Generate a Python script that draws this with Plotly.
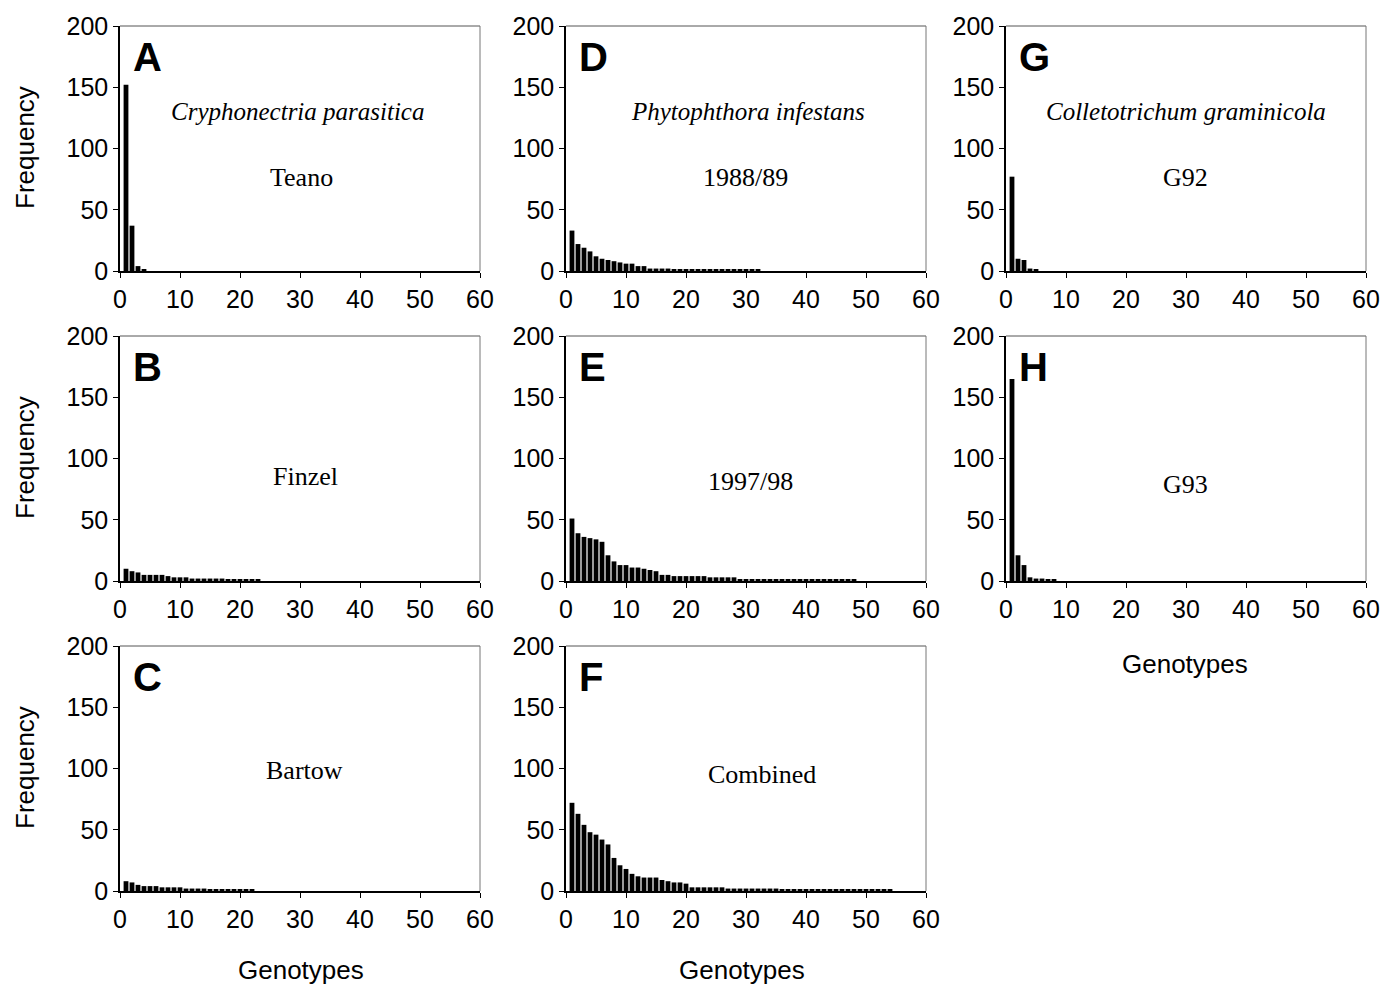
import plotly.graph_objects as go

# ---- data ----
freq_A = [152, 37, 4, 1]
freq_B = [10, 8, 7, 5, 5, 5, 5, 4, 3, 3, 3, 2, 2, 2, 2, 2, 2, 1, 1, 1, 1, 1, 1]
freq_C = [8, 7, 5, 4, 4, 4, 3, 3, 3, 3, 2, 2, 2, 2, 1, 1, 1, 1, 1, 1, 1, 1]
freq_D = [33, 22, 19, 16, 12, 10, 9, 8, 7, 6, 6, 4, 4, 2, 2, 2, 2,
          1, 1, 1, 1, 1, 1, 1, 1, 1, 1, 1, 1, 1, 1, 1]
freq_E = [51, 39, 36, 35, 34, 32, 21, 16, 13, 13, 11, 11, 10, 9, 8, 5, 5, 4, 4, 4,
          4, 4, 4, 3, 3, 3, 3, 3, 1, 1, 1, 1, 1, 1, 1, 1, 1, 1, 1, 1, 1, 1, 1, 1,
          1, 1, 1, 1]
freq_F = [72, 63, 54, 48, 46, 42, 38, 27, 21, 18, 14, 12, 11, 11, 11, 9, 8, 7, 7, 6,
          3, 3, 3, 3, 3, 3, 2, 2, 2, 2, 2, 2, 2, 2, 2, 1, 1, 1, 1, 1, 1, 1, 1, 1,
          1, 1, 1, 1, 1, 1, 1, 1, 1, 1]
freq_G = [77, 10, 9, 2, 1]
freq_H = [165, 21, 13, 3, 2, 2, 1, 1]

panel_letters = ["A", "B", "C", "D", "E", "F", "G", "H"]
panel_series = [freq_A, freq_B, freq_C, freq_D, freq_E, freq_F, freq_G, freq_H]
panel_pos = [(0, 0), (1, 0), (2, 0), (0, 1), (1, 1), (2, 1), (0, 2), (1, 2)]
panel_labels = ["Teano", "Finzel", "Bartow", "1988/89", "1997/98", "Combined", "G92", "G93"]
species = {(0, 0): "Cryphonectria parasitica", (0, 1): "Phytophthora infestans",
           (0, 2): "Colletotrichum graminicola"}
x_ticks = [0, 10, 20, 30, 40, 50, 60]
y_ticks = [0, 50, 100, 150, 200]

# ---- layout geometry (page pixels; body margin is removed by post_script) ----
W, H = 1382, 988
col_x = [(120, 480), (566, 926), (1006, 1366)]
row_y = [(26, 271), (336, 581), (646, 891)]
label_y = {(0, 0): 177, (1, 0): 476, (2, 0): 770, (0, 1): 177, (1, 1): 481, (2, 1): 774,
           (0, 2): 177, (1, 2): 484}
label_x = {(0, 0): 301, (1, 0): 305, (2, 0): 304, (0, 1): 745, (1, 1): 750, (2, 1): 762,
           (0, 2): 1185, (1, 2): 1185}


def px(x):
    return x / W


def py(y):
    return 1 - y / H


SANS = "Liberation Sans, Arial, sans-serif"
SERIF = "Liberation Serif, Times New Roman, serif"

fig = go.Figure()
layout = dict(width=W, height=H, margin=dict(l=0, r=0, t=0, b=0, pad=0, autoexpand=False),
              template="none",
              paper_bgcolor="white", plot_bgcolor="white", showlegend=False)
annotations = []
shapes = []

for i, (letter, vals, (r, c), lab) in enumerate(zip(panel_letters, panel_series, panel_pos, panel_labels)):
    n = i + 1
    xa = "xaxis" if n == 1 else f"xaxis{n}"
    ya = "yaxis" if n == 1 else f"yaxis{n}"
    xr = "x" if n == 1 else f"x{n}"
    yr = "y" if n == 1 else f"y{n}"
    x0, x1 = col_x[c]
    y0, y1 = row_y[r]
    fig.add_trace(go.Bar(x=list(range(1, len(vals) + 1)), y=vals, width=0.8,
                         marker=dict(color="black", line=dict(width=0)),
                         xaxis=xr, yaxis=yr, hoverinfo="x+y"))
    layout[xa] = dict(domain=[px(x0), px(x1)], anchor=yr, range=[0, 60], automargin=False,
                      tickvals=x_ticks, ticks="outside", ticklen=5, tickwidth=1,
                      tickcolor="black", showline=True, linecolor="black", linewidth=1.5,
                      showgrid=False, zeroline=False, ticklabeloverflow="allow",
                      tickfont=dict(family=SANS, size=25, color="black"))
    layout[ya] = dict(domain=[py(y1), py(y0)], anchor=xr, range=[0, 200], automargin=False,
                      tickvals=y_ticks, ticks="outside", ticklen=5, tickwidth=1,
                      tickcolor="black", showline=True, linecolor="black", linewidth=1.5,
                      showgrid=False, zeroline=False, ticklabeloverflow="allow",
                      tickfont=dict(family=SANS, size=25, color="black"))
    # grey top and right frame lines
    shapes.append(dict(type="line", xref=f"{xr} domain", yref=f"{yr} domain",
                       x0=0, x1=1, y0=1, y1=1, line=dict(color="#555555", width=1)))
    shapes.append(dict(type="line", xref=f"{xr} domain", yref=f"{yr} domain",
                       x0=1, x1=1, y0=0, y1=1, line=dict(color="#777777", width=1)))
    # panel letter
    annotations.append(dict(text=f"<b>{letter}</b>", xref=f"{xr} domain", yref=f"{yr} domain",
                            x=0.03, y=(y1 - (y0 + 31)) / (y1 - y0),
                            xanchor="left", yanchor="middle", showarrow=False,
                            font=dict(family=SANS, size=40, color="black")))
    # sub-label
    annotations.append(dict(text=lab, xref="paper", yref="paper",
                            x=px(label_x[(r, c)]), y=py(label_y[(r, c)]),
                            xanchor="center", yanchor="middle", showarrow=False,
                            font=dict(family=SERIF, size=26, color="black")))
    if (r, c) in species:
        cx = [297, 748, 1186][c]
        annotations.append(dict(text=f"<i>{species[(r, c)]}</i>", xref="paper", yref="paper",
                                x=px(cx), y=py(112), xanchor="center", yanchor="middle",
                                showarrow=False, font=dict(family=SERIF, size=25, color="black")))

# axis titles
for yc in [148, 458, 768]:
    annotations.append(dict(text="Frequency", xref="paper", yref="paper", x=px(25), y=py(yc),
                            xanchor="center", yanchor="middle", textangle=-90, showarrow=False,
                            font=dict(family=SANS, size=26, color="black")))
for (gx, gy) in [(301, 970), (742, 970), (1185, 664)]:
    annotations.append(dict(text="Genotypes", xref="paper", yref="paper", x=px(gx), y=py(gy),
                            xanchor="center", yanchor="middle", showarrow=False,
                            font=dict(family=SANS, size=26, color="black")))

layout["annotations"] = annotations
layout["shapes"] = shapes
layout["bargap"] = 0.2
fig.update_layout(**layout)
fig.write_html("out.html", config={"displayModeBar": False},
               post_script="document.body.style.margin='0';document.body.style.overflow='hidden';")
